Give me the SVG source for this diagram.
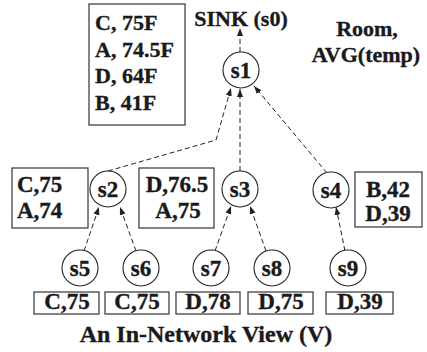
<svg xmlns="http://www.w3.org/2000/svg" width="427" height="352" viewBox="0 0 427 352">
<style>
text{font-family:"Liberation Serif","Times New Roman",serif;font-weight:bold;fill:#1a1a1a;stroke:#1a1a1a;stroke-width:0.35}
.t{font-size:22px}
.n{font-size:23px;text-anchor:middle}
.b{font-size:23px}
.m{text-anchor:middle}
circle{fill:#fff;stroke:#222;stroke-width:1.1}
rect{fill:#fff;stroke:#333;stroke-width:1.2}
.c{fill:none;stroke:#222;stroke-width:1;stroke-dasharray:5,3;marker-end:url(#ah)}
</style>
<defs>
<marker id="ah" markerUnits="userSpaceOnUse" markerWidth="9" markerHeight="7" refX="8" refY="3" orient="auto">
<path d="M0,0 L8,3 L0,6 z" fill="#222"/>
</marker>
</defs>
<g id="connectors">
<path class="c" d="M240,52 L240,28"/>
<path class="c" d="M108,171 L216,140 L231,88"/>
<path class="c" d="M240,171 L240,89"/>
<path class="c" d="M327,173 L254,86"/>
<path class="c" d="M84,251 L99,207"/>
<path class="c" d="M136,251 L120,207"/>
<path class="c" d="M215,251 L231,206"/>
<path class="c" d="M266,251 L250,206"/>
<path class="c" d="M345,251 L336,207"/>
</g>
<g id="sink"><text class="t m" x="241" y="26">SINK (s0)</text></g>
<g id="room"><text class="t m" x="367" y="36">Room,</text><text class="t m" x="366" y="62">AVG(temp)</text></g>
<g id="result"><rect x="89" y="4" width="96" height="121"/>
<text class="t" x="95" y="30">C, 75F</text><text class="t" x="95" y="57">A, 74.5F</text><text class="t" x="95" y="83">D, 64F</text><text class="t" x="95" y="110">B, 41F</text></g>
<g id="s1"><circle cx="241" cy="70" r="18"/><text class="n" x="241" y="78">s1</text></g>
<g id="s2"><circle cx="108" cy="189" r="18"/><text class="n" x="108" y="197">s2</text></g>
<g id="s3"><circle cx="240" cy="189" r="18"/><text class="n" x="240" y="197">s3</text></g>
<g id="s4"><circle cx="331" cy="190" r="18"/><text class="n" x="331" y="198">s4</text></g>
<g id="s5"><circle cx="80" cy="268" r="18"/><text class="n" x="80" y="276">s5</text></g>
<g id="s6"><circle cx="141" cy="268" r="18"/><text class="n" x="141" y="276">s6</text></g>
<g id="s7"><circle cx="211" cy="268" r="18"/><text class="n" x="211" y="276">s7</text></g>
<g id="s8"><circle cx="272" cy="268" r="18"/><text class="n" x="272" y="276">s8</text></g>
<g id="s9"><circle cx="348" cy="268" r="18"/><text class="n" x="348" y="276">s9</text></g>
<g id="box-s2"><rect x="12" y="168" width="76" height="60"/><text class="b" x="17" y="192">C,75</text><text class="b" x="17" y="218">A,74</text></g>
<g id="box-s3"><rect x="139" y="168" width="75" height="60"/><text class="b m" x="177" y="192">D,76.5</text><text class="b m" x="178" y="218">A,75</text></g>
<g id="box-s4"><rect x="355" y="172" width="67" height="55"/><text class="b m" x="388" y="197">B,42</text><text class="b m" x="388" y="221">D,39</text></g>
<g id="box-s5"><rect x="34" y="292" width="65" height="22"/><text class="b m" x="67" y="309">C,75</text></g>
<g id="box-s6"><rect x="105" y="292" width="64" height="22"/><text class="b m" x="137" y="309">C,75</text></g>
<g id="box-s7"><rect x="176" y="292" width="64" height="22"/><text class="b m" x="208" y="309">D,78</text></g>
<g id="box-s8"><rect x="248" y="292" width="65" height="22"/><text class="b m" x="281" y="309">D,75</text></g>
<g id="box-s9"><rect x="326" y="292" width="67" height="22"/><text class="b m" x="360" y="309">D,39</text></g>
<g id="caption"><text class="m" style="font-size:24px" x="206" y="342">An In-Network View (V)</text></g>
</svg>
